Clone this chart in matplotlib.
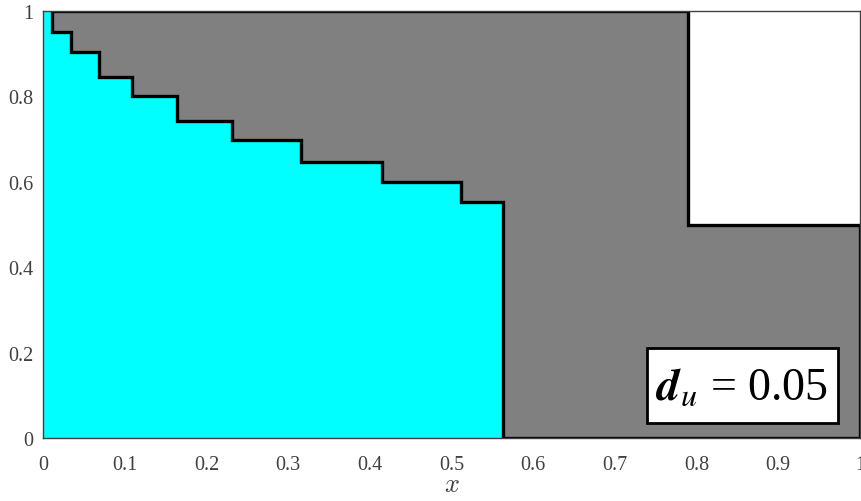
"""Staircase region plot with d_u annotation."""

import matplotlib

matplotlib.use("Agg")
import matplotlib.pyplot as plt
import numpy as np
from matplotlib.patches import Rectangle

# right edge of each step and the level held up to that edge
step_x = [0.011, 0.034, 0.068, 0.109, 0.164, 0.231, 0.316, 0.415, 0.512, 0.563]
step_y = [1.0, 0.951, 0.904, 0.845, 0.801, 0.742, 0.698, 0.646, 0.600, 0.553]
# white corner block (lower-left corner)
block_x = 0.79
block_y = 0.5
du_value = 0.05
ticks = [0, 0.1, 0.2, 0.3, 0.4, 0.5, 0.6, 0.7, 0.8, 0.9, 1]
tick_labels = ["0", "0.1", "0.2", "0.3", "0.4", "0.5", "0.6", "0.7", "0.8", "0.9", "1"]
yticks = [0, 0.2, 0.4, 0.6, 0.8, 1]
ytick_labels = ["0", "0.2", "0.4", "0.6", "0.8", "1"]

CYAN = "#00ffff"
GRAY = "#808080"

plt.rcParams["font.family"] = ["Liberation Serif", "DejaVu Serif"]
plt.rcParams["mathtext.fontset"] = "stix"

# staircase: down at each edge, then across to the next one
levels_next = step_y[1:] + [0.0]
sx = np.repeat(step_x, 2)
sy = np.ravel(np.column_stack([step_y, levels_next]))

fig = plt.figure(figsize=(8.62, 5.02), dpi=100)
ax = fig.add_axes([43 / 862, 63 / 502, 817 / 862, 427 / 502])

# cyan region under the staircase
cx = np.concatenate([[0, 0], sx])
cy = np.concatenate([[0, 1], sy])
ax.fill(cx, cy, color=CYAN, lw=0, zorder=1)

# gray region between staircase and the white block
gx = np.concatenate([sx, [1, 1, block_x, block_x]])
gy = np.concatenate([sy, [0, block_y, block_y, 1]])
ax.fill(gx, gy, facecolor=GRAY, edgecolor="black", lw=2.4,
        joinstyle="miter", zorder=2)

ax.add_patch(Rectangle((block_x, block_y), 1 - block_x, 1 - block_y,
                       facecolor="white", edgecolor="none", zorder=1))

ax.set_xlim(0, 1)
ax.set_ylim(0, 1)
ax.set_xticks(ticks, tick_labels)
ax.set_yticks(yticks, ytick_labels)
ax.tick_params(length=0, labelsize=14.5, labelcolor="#404040")
ax.tick_params(axis="x", pad=12)
ax.tick_params(axis="y", pad=7)
for sp in ax.spines.values():
    sp.set_color("#404040")
    sp.set_linewidth(1.0)
    sp.set_zorder(3)

ax.set_xlabel("$x$", fontsize=19, color="#404040", labelpad=0,
              math_fontfamily="cm")

# annotation box
ax.add_patch(Rectangle((0.739, 0.035), 0.234, 0.176, transform=ax.transAxes,
                       facecolor="white", edgecolor="black", lw=2.0, zorder=4))
ax.text(0.856, 0.118, rf"$\mathbfit{{d}}_{{u}}$ = {du_value:.2f}",
        transform=ax.transAxes, ha="center", va="center",
        fontsize=33, zorder=5)

fig.savefig("out.png", dpi=100)
